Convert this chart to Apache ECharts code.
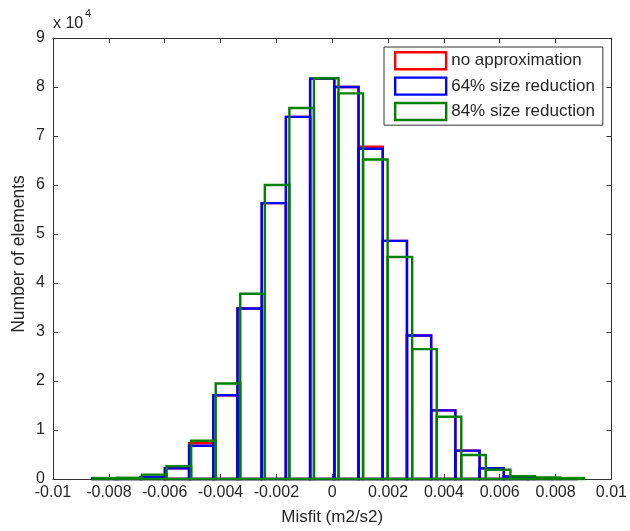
<!DOCTYPE html>
<html>
<head>
<meta charset="utf-8">
<script src="https://cdn.jsdelivr.net/npm/echarts@6/dist/echarts.min.js"></script>
<style>
html,body{margin:0;padding:0;background:#fff;}
#chart{width:630px;height:531px;}
</style>
</head>
<body>
<div id="chart"></div>
<script>
// ---- data ----
var seriesNames = ['no approximation', '64% size reduction', '84% size reduction'];
var seriesColors = ['#ff0000', '#0000ff', '#008000'];
// histogram ranges (min edge, max edge) per series, 20 bins each
var redRange = [-0.008594, 0.008746];
var blueRange = [-0.008594, 0.008746];
var greenRange = [-0.00857, 0.00902];
var redCounts = [100, 150, 400, 2200, 7300, 17100, 34800, 56300, 73900, 81700, 80000, 67800, 48600, 29300, 14000, 5800, 2200, 500, 200, 100];
var blueCounts = [100, 150, 400, 2200, 6800, 17100, 34800, 56300, 73900, 81700, 80000, 67400, 48600, 29300, 14000, 5800, 2200, 500, 200, 100];
var greenCounts = [200, 250, 900, 2600, 7800, 19500, 37800, 60000, 75700, 81800, 78700, 65200, 45300, 26500, 12700, 4900, 1900, 550, 300, 200];
var xTickLabels = ['-0.01', '-0.008', '-0.006', '-0.004', '-0.002', '0', '0.002', '0.004', '0.006', '0.008', '0.01'];
var yTickLabels = ['0', '1', '2', '3', '4', '5', '6', '7', '8', '9'];
var xName = 'Misfit (m2/s2)';
var yName = 'Number of elements';

function bins(range, counts) {
  var n = counts.length, w = (range[1] - range[0]) / n, out = [];
  for (var i = 0; i < n; i++) out.push([range[0] + i * w, range[0] + (i + 1) * w, counts[i]]);
  return out;
}
var allData = [bins(redRange, redCounts), bins(blueRange, blueCounts), bins(greenRange, greenCounts)];

var FONT = 'Liberation Sans, Arial, sans-serif';
var TXT = '#262626';

function makeSeries(idx) {
  var c = seriesColors[idx];
  return {
    name: seriesNames[idx],
    type: 'custom',
    xAxisIndex: 0, yAxisIndex: 0,
    itemStyle: { color: c },
    encode: { x: [0, 1], y: 2 },
    data: allData[idx],
    z: 2 + idx,
    renderItem: function (params, api) {
      var p0 = api.coord([api.value(0), api.value(2)]);
      var p1 = api.coord([api.value(1), 0]);
      return {
        type: 'rect',
        shape: { x: p0[0], y: p0[1], width: p1[0] - p0[0], height: p1[1] - p0[1] },
        style: { fill: 'none', stroke: c, lineWidth: 2.4 }
      };
    }
  };
}

var chart = echarts.init(document.getElementById('chart'), null, { renderer: 'canvas' });
var axisLineStyle = { color: '#333', width: 1 };
chart.setOption({
  animation: false,
  backgroundColor: '#fff',
  grid: { left: 53, right: 13, top: 38, bottom: 50, containLabel: false },
  xAxis: [{
    type: 'value', min: -0.01, max: 0.01, interval: 0.002,
    axisLine: { show: true, onZero: false, lineStyle: axisLineStyle },
    axisTick: { show: true, inside: true, length: 5, lineStyle: axisLineStyle },
    splitLine: { show: false },
    axisLabel: {
      margin: 6, fontSize: 16, fontFamily: FONT, color: TXT,
      formatter: function (v) { return xTickLabels[Math.round((v + 0.01) / 0.002)]; }
    },
    name: xName, nameLocation: 'middle', nameGap: 30,
    nameTextStyle: { fontSize: 17, fontFamily: FONT, color: TXT }
  }, {
    type: 'value', position: 'top', min: -0.01, max: 0.01, interval: 0.002,
    axisLine: { show: true, onZero: false, lineStyle: axisLineStyle },
    axisTick: { show: true, inside: true, length: 5, lineStyle: axisLineStyle },
    axisLabel: { show: false }, splitLine: { show: false }
  }],
  yAxis: [{
    type: 'value', min: 0, max: 90000, interval: 10000,
    axisLine: { show: true, onZero: false, lineStyle: axisLineStyle },
    axisTick: { show: true, inside: true, length: 5, lineStyle: axisLineStyle },
    splitLine: { show: false },
    axisLabel: {
      margin: 8, fontSize: 16, fontFamily: FONT, color: TXT,
      formatter: function (v) { return yTickLabels[Math.round(v / 10000)]; }
    }
  }, {
    type: 'value', position: 'right', min: 0, max: 90000, interval: 10000,
    axisLine: { show: true, onZero: false, lineStyle: axisLineStyle },
    axisTick: { show: true, inside: true, length: 5, lineStyle: axisLineStyle },
    axisLabel: { show: false }, splitLine: { show: false }
  }],
  legend: {
    left: 384, top: 47, orient: 'vertical',
    backgroundColor: '#fff', borderColor: '#333', borderWidth: 1,
    padding: [4, 8, 4, 10], itemGap: 6, itemWidth: 51, itemHeight: 17,
    icon: 'rect',
    textStyle: { fontSize: 17, fontFamily: FONT, color: TXT, padding: [0, 0, 0, 0] },
    data: seriesNames.map(function (n, i) {
      return { name: n, itemStyle: { color: 'rgba(255,255,255,0)', borderColor: seriesColors[i], borderWidth: 2.4 } };
    })
  },
  graphic: [
    { type: 'text', left: 53, top: 16, style: { text: 'x 10', font: '16px ' + FONT, fill: TXT } },
    { type: 'text', left: 85, top: 8, style: { text: '4', font: '11px ' + FONT, fill: TXT } },
    { type: 'text', x: 19, y: 254, rotation: Math.PI / 2,
      style: { text: yName, font: '17.5px ' + FONT, fill: TXT, textAlign: 'center', textVerticalAlign: 'middle' } }
  ],
  series: [makeSeries(0), makeSeries(1), makeSeries(2)]
});
</script>
</body>
</html>
